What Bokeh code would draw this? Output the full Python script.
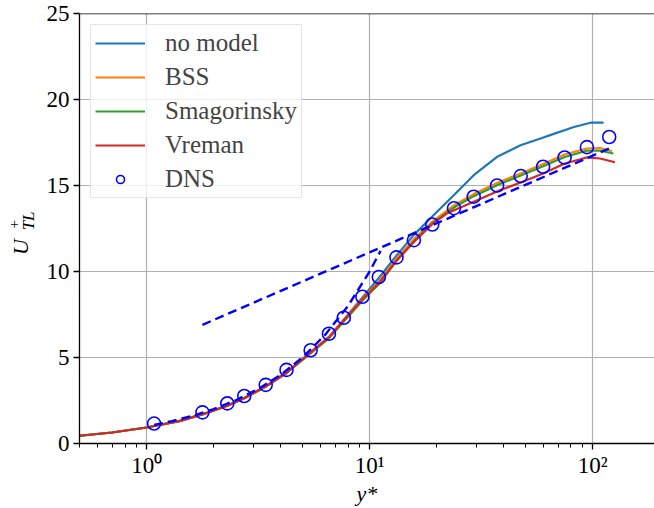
import math
from bokeh.plotting import figure
from bokeh.layouts import row
from bokeh.models import Range1d, FixedTicker, Legend, LegendItem, Span
from bokeh.core.properties import value
from bokeh.embed import file_html
from bokeh.resources import INLINE

# --- DNS reference profile -------------------------------------------------
dns_y = [1.08, 1.78, 2.30, 2.74, 3.42, 4.24, 5.44, 6.57, 7.66, 9.28, 11.0,
         13.2, 15.8, 19.1, 23.9, 29.3, 37.3, 47.6, 60.0, 74.9, 94.3, 118.7]
dns_u = [1.16, 1.81, 2.33, 2.76, 3.41, 4.28, 5.42, 6.38, 7.31, 8.53, 9.68,
         10.82, 11.82, 12.73, 13.68, 14.35, 15.0, 15.55, 16.09, 16.63, 17.23, 17.82]

# --- LES profiles ------------------------------------------------------------
nomodel_y = [0.5, 0.7, 1.0, 1.4, 1.8, 2.3, 2.75, 3.4, 4.25, 5.45, 6.6, 7.7,
             9.3, 11.0, 13.3, 15.8, 19.4, 23.9, 29.3, 37.3, 47.5, 58.4, 67.0,
             82.5, 98.0, 112.0]
nomodel_u = [0.45, 0.64, 0.93, 1.3, 1.72, 2.2, 2.66, 3.31, 4.14, 5.32, 6.22, 7.24,
             8.5, 9.62, 10.98, 12.13, 13.29, 14.45, 15.6, 16.67, 17.34, 17.73, 18.0,
             18.4, 18.65, 18.65]

bss_y = [0.5, 0.7, 1.0, 1.4, 1.8, 2.3, 2.75, 3.4, 4.25, 5.45, 6.6, 7.7,
         9.3, 11.0, 13.3, 15.8, 19.1, 23.9, 29.3, 37.3, 47.6, 60.0, 75.0,
         94.0, 108.0, 122.0]
bss_u = [0.45, 0.64, 0.93, 1.3, 1.72, 2.2, 2.66, 3.31, 4.14, 5.32, 6.22, 7.22,
         8.45, 9.4, 10.8, 11.88, 12.9, 13.85, 14.5, 15.15, 15.7, 16.25, 16.8,
         17.15, 17.17, 17.0]

smag_y = [0.5, 0.7, 1.0, 1.4, 1.8, 2.3, 2.75, 3.4, 4.25, 5.45, 6.6, 7.7,
          9.3, 11.0, 13.3, 15.8, 19.1, 23.9, 29.3, 37.3, 47.6, 60.0, 75.0,
          94.0, 108.0, 124.0]
smag_u = [0.45, 0.64, 0.93, 1.3, 1.71, 2.19, 2.63, 3.28, 4.1, 5.26, 6.14, 7.12,
          8.32, 9.26, 10.66, 11.75, 12.8, 13.72, 14.38, 15.02, 15.58, 16.12, 16.66,
          17.02, 17.02, 16.86]

vreman_y = [0.5, 0.7, 1.0, 1.4, 1.8, 2.3, 2.75, 3.4, 4.25, 5.45, 6.6, 7.7,
            9.3, 11.0, 13.3, 15.8, 19.1, 22.3, 29.3, 38.6, 47.6, 60.0, 75.0,
            94.0, 108.0, 126.0]
vreman_u = [0.45, 0.64, 0.93, 1.3, 1.72, 2.2, 2.65, 3.3, 4.13, 5.3, 6.2, 7.2,
            8.4, 9.33, 10.69, 11.72, 12.75, 13.39, 14.06, 14.74, 15.17, 15.7, 16.28,
            16.63, 16.57, 16.35]

# --- law of the wall: viscous sublayer and log layer ------------------------
visc_y = [1.08, 1.3, 1.6, 2.0, 2.5, 3.2, 4.0, 5.0, 6.3, 8.0, 10.0, 11.2]
visc_u = [1.08, 1.3, 1.6, 2.0, 2.5, 3.2, 4.0, 5.0, 6.3, 8.0, 10.0, 11.2]
log_y = [1.78, 118.7]
log_u = [6.9, 17.15]

x_ticks = [1, 10, 100]
x_tick_labels = {1: "10\u2070", 10: "10\u00b9", 100: "10\u00b2"}
x_minor = [0.5, 0.6, 0.7, 0.8, 0.9, 2, 3, 4, 5, 6, 7, 8, 9,
           20, 30, 40, 50, 60, 70, 80, 90]
y_ticks = [0, 5, 10, 15, 20, 25]

SERIF = "Liberation Serif"
W, H = 654, 508
STRIP_W = 40

p = figure(width=W - STRIP_W, height=H, x_axis_type="log",
           x_range=Range1d(0.5, 189.5), y_range=Range1d(0, 25),
           output_backend="svg", toolbar_location=None,
           min_border_left=39, min_border_right=0,
           min_border_top=13, min_border_bottom=65)
p.outline_line_color = None
p.background_fill_color = "white"
p.border_fill_color = "white"

# axes
for ax in (p.xaxis[0], p.yaxis[0]):
    ax.axis_line_color = "black"
    ax.axis_line_width = 1.3
    ax.major_tick_line_color = "black"
    ax.major_tick_line_width = 1.3
    ax.major_tick_in = 0
    ax.major_tick_out = 6
    ax.major_label_text_font = SERIF
    ax.major_label_text_font_size = "23px"
    ax.major_label_text_color = "black"
    ax.major_label_standoff = 4

p.xaxis.major_label_standoff = 3
p.xaxis.ticker = FixedTicker(ticks=x_ticks, minor_ticks=x_minor)
p.xaxis.major_label_overrides = x_tick_labels
p.xaxis.minor_tick_in = 0
p.xaxis.minor_tick_out = 4
p.xaxis.minor_tick_line_color = "black"
p.xaxis.minor_tick_line_width = 1.0
p.xaxis.axis_label = "y*"
p.xaxis.axis_label_text_font = SERIF
p.xaxis.axis_label_text_font_style = "italic"
p.xaxis.axis_label_text_font_size = "22px"
p.xaxis.axis_label_text_color = "black"
p.xaxis.axis_label_standoff = 0

p.yaxis.ticker = FixedTicker(ticks=y_ticks)
p.yaxis.minor_tick_line_color = None

p.xgrid.grid_line_color = "#b0b0b0"
p.ygrid.grid_line_color = "#b0b0b0"
p.xgrid.grid_line_width = 1.2
p.ygrid.grid_line_width = 1.2

# top spine
p.add_layout(Span(location=25, dimension="width", line_color="black", line_width=1.3))

# profiles
lw = 2.2
r_nm = p.line(nomodel_y, nomodel_u, line_color="#1f77b4", line_width=lw)
r_bss = p.line(bss_y, bss_u, line_color="#ff7f0e", line_width=lw)
r_sm = p.line(smag_y, smag_u, line_color="#2ca02c", line_width=lw)
r_vr = p.line(vreman_y, vreman_u, line_color="#d62728", line_width=lw)
r_dns = p.scatter(dns_y, dns_u, marker="circle", size=13, fill_color=None,
                  line_color="blue", line_width=1.6)
p.line(visc_y, visc_u, line_color="blue", line_width=2.4, line_dash="9 5")
p.line(log_y, log_u, line_color="blue", line_width=2.4, line_dash="9 5")

legend = Legend(items=[
    LegendItem(label="no model", renderers=[r_nm]),
    LegendItem(label="BSS", renderers=[r_bss]),
    LegendItem(label="Smagorinsky", renderers=[r_sm]),
    LegendItem(label="Vreman", renderers=[r_vr]),
    LegendItem(label="DNS", renderers=[r_dns]),
], location="top_left", margin=11, padding=4, spacing=6,
    glyph_width=50, glyph_height=20, label_standoff=20, label_height=20,
    label_text_font=SERIF, label_text_font_size="25px",
    border_line_color="#cccccc", border_line_width=1.2,
    background_fill_color="white", background_fill_alpha=0.8)
p.add_layout(legend)

# left strip carrying the rotated y-axis title U^+_TL; positions are in
# strip pixels measured from the top edge
t = figure(width=STRIP_W, height=H, x_range=Range1d(0, STRIP_W), y_range=Range1d(0, H),
           output_backend="svg", toolbar_location=None,
           x_axis_location=None, y_axis_location=None, min_border=0)
t.outline_line_color = None
t.xgrid.visible = False
t.ygrid.visible = False
rot = math.pi / 2
title_parts = [
    # text, x, y-from-top, size, style
    ("U", 20, 276, "22px", "italic"),
    ("+", 13.5, 249, "15px", "normal"),
    ("TL", 28, 245, "17px", "italic"),
]
for txt, sx, sy, size, style in title_parts:
    t.text(x=[sx], y=[H - sy], text=[txt], angle=rot,
           text_font=value(SERIF), text_font_style=style, text_font_size=size,
           text_align="center", text_baseline="middle", text_color="black")

layout = row(t, p, spacing=0)
open("out.html", "w").write(file_html(layout, INLINE))
